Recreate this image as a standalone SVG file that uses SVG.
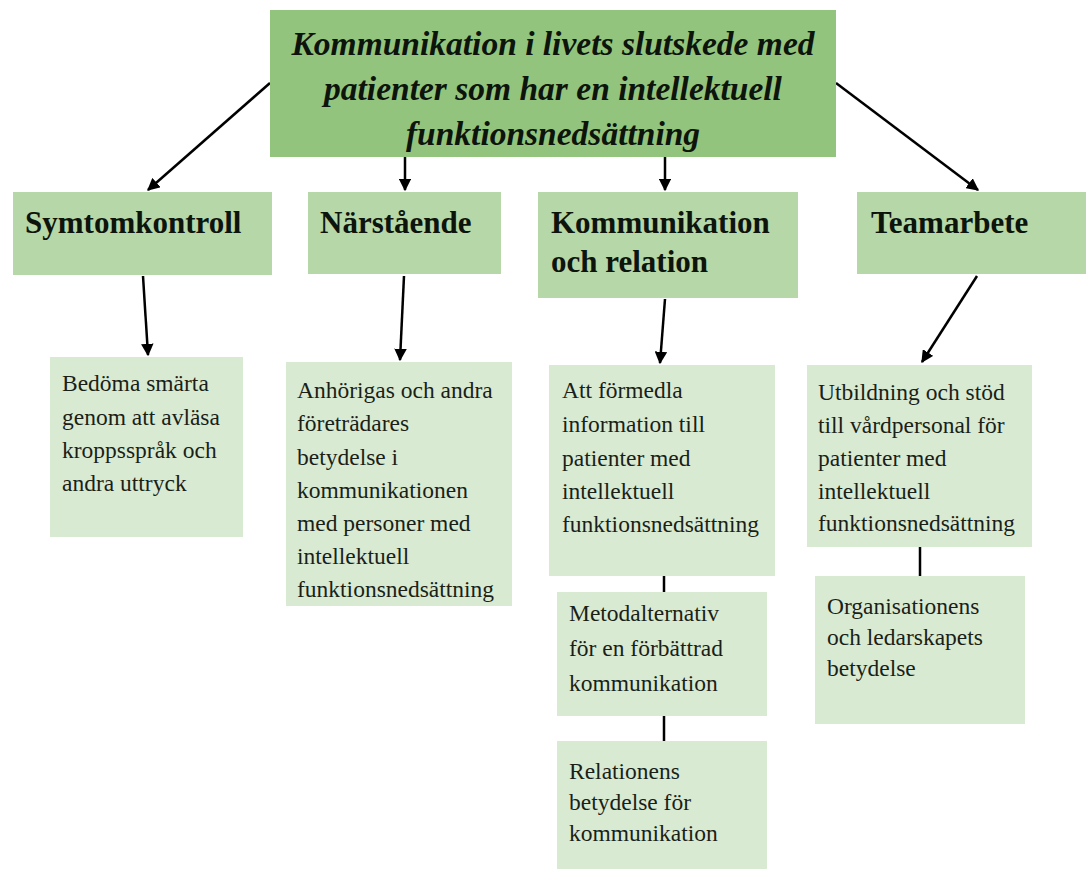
<svg xmlns="http://www.w3.org/2000/svg" width="1086" height="869" viewBox="0 0 1086 869">
<defs>
<marker id="arr" viewBox="0 0 10 10" refX="9" refY="5" markerWidth="5" markerHeight="5" orient="auto" markerUnits="strokeWidth">
<path d="M0,0 L10,5 L0,10 z" fill="#000"/>
</marker>
<style>
.top{fill:#93c47d}
.l2{fill:#b6d7a8}
.l3{fill:#d9ead3}
.tt{font-family:"Liberation Serif",serif;font-weight:bold;font-style:italic;font-size:33.5px;fill:#0d140b;text-anchor:middle}
.h2{font-family:"Liberation Serif",serif;font-weight:bold;font-size:31px;fill:#0d140b}
.t3{font-family:"Liberation Serif",serif;font-size:23.5px;fill:#1a1f18}
.c{stroke:#000;stroke-width:2.5;fill:none}
.ca{stroke:#000;stroke-width:2.5;fill:none;marker-end:url(#arr)}
</style>
</defs>
<rect width="1086" height="869" fill="#fff"/>
<g id="connectors">
<line class="ca" x1="270" y1="83" x2="148" y2="190"/>
<line class="ca" x1="405" y1="157" x2="405" y2="190"/>
<line class="ca" x1="665" y1="157" x2="665" y2="190"/>
<line class="ca" x1="836" y1="83" x2="978" y2="190"/>
<line class="ca" x1="143" y1="276" x2="148" y2="355"/>
<line class="ca" x1="404" y1="276" x2="400" y2="360"/>
<line class="ca" x1="665" y1="299" x2="660" y2="363"/>
<line class="ca" x1="977" y1="276" x2="922" y2="362"/>
<line class="c" x1="664" y1="576" x2="664" y2="592"/>
<line class="c" x1="664" y1="716" x2="664" y2="741"/>
<line class="c" x1="920" y1="547" x2="920" y2="576"/>
</g>
<g id="root">
<rect class="top" x="270" y="10" width="566" height="147"/>
<text class="tt" x="553" y="55">Kommunikation i livets slutskede med</text>
<text class="tt" x="553" y="100">patienter som har en intellektuell</text>
<text class="tt" x="553" y="145">funktionsnedsättning</text>
</g>
<g id="symtomkontroll">
<rect class="l2" x="13" y="192" width="259" height="83"/>
<text class="h2" x="25" y="233">Symtomkontroll</text>
</g>
<g id="narstaende">
<rect class="l2" x="308" y="192" width="193" height="82"/>
<text class="h2" x="320" y="233">Närstående</text>
</g>
<g id="kommunikation">
<rect class="l2" x="538" y="192" width="260" height="106"/>
<text class="h2" x="551" y="233">Kommunikation</text>
<text class="h2" x="551" y="272">och relation</text>
</g>
<g id="teamarbete">
<rect class="l2" x="857" y="192" width="229" height="82"/>
<text class="h2" x="871" y="233">Teamarbete</text>
</g>
<g id="bedoma">
<rect class="l3" x="50" y="357" width="193" height="180"/>
<text class="t3" x="62" y="391">Bedöma smärta</text>
<text class="t3" x="62" y="425">genom att avläsa</text>
<text class="t3" x="62" y="458">kroppsspråk och</text>
<text class="t3" x="62" y="491">andra uttryck</text>
</g>
<g id="anhorigas">
<rect class="l3" x="286" y="362" width="226" height="244"/>
<text class="t3" x="297" y="398">Anhörigas och andra</text>
<text class="t3" x="297" y="431">företrädares</text>
<text class="t3" x="297" y="465">betydelse i</text>
<text class="t3" x="297" y="498">kommunikationen</text>
<text class="t3" x="297" y="531">med personer med</text>
<text class="t3" x="297" y="564">intellektuell</text>
<text class="t3" x="297" y="597">funktionsnedsättning</text>
</g>
<g id="formedla">
<rect class="l3" x="549" y="365" width="226" height="211"/>
<text class="t3" x="562" y="398">Att förmedla</text>
<text class="t3" x="562" y="432">information till</text>
<text class="t3" x="562" y="466">patienter med</text>
<text class="t3" x="562" y="499">intellektuell</text>
<text class="t3" x="562" y="532">funktionsnedsättning</text>
</g>
<g id="metodalternativ">
<rect class="l3" x="557" y="592" width="210" height="124"/>
<text class="t3" x="569" y="621">Metodalternativ</text>
<text class="t3" x="569" y="656">för en förbättrad</text>
<text class="t3" x="569" y="691">kommunikation</text>
</g>
<g id="relationens">
<rect class="l3" x="557" y="741" width="210" height="128"/>
<text class="t3" x="569" y="779">Relationens</text>
<text class="t3" x="569" y="810">betydelse för</text>
<text class="t3" x="569" y="841">kommunikation</text>
</g>
<g id="utbildning">
<rect class="l3" x="807" y="365" width="225" height="182"/>
<text class="t3" x="818" y="400">Utbildning och stöd</text>
<text class="t3" x="818" y="433">till vårdpersonal för</text>
<text class="t3" x="818" y="466">patienter med</text>
<text class="t3" x="818" y="499">intellektuell</text>
<text class="t3" x="818" y="531">funktionsnedsättning</text>
</g>
<g id="organisationens">
<rect class="l3" x="815" y="576" width="210" height="148"/>
<text class="t3" x="827" y="614">Organisationens</text>
<text class="t3" x="827" y="645">och ledarskapets</text>
<text class="t3" x="827" y="676">betydelse</text>
</g>
</svg>
